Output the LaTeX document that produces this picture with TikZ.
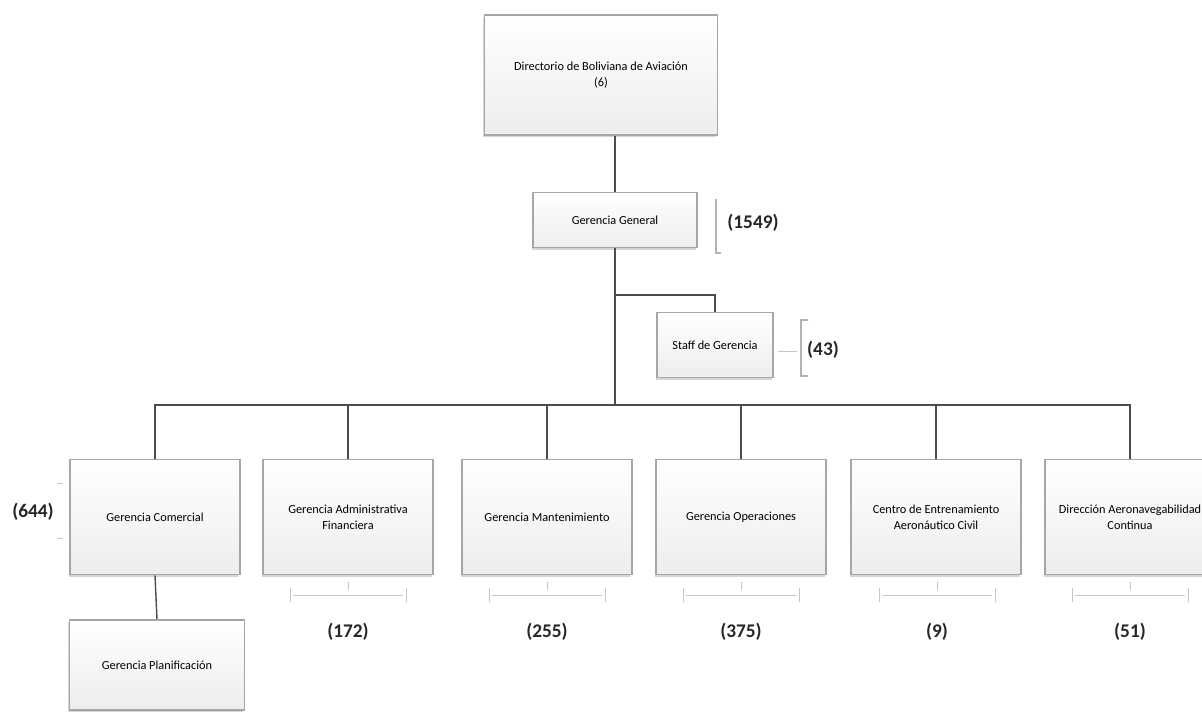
\documentclass[tikz,border=0pt]{standalone}
\usepackage{fontspec}
\setmainfont{Carlito}
\usetikzlibrary{shadows}
\tikzset{>=stealth,
  unitbox/.style={draw=gray!70, line width=0.9pt, top color=white, bottom color=gray!14,
    drop shadow={shadow xshift=-0.8pt, shadow yshift=-1.4pt, fill=gray!65},
    align=center, font=\fontsize{7}{9}\selectfont},
  link/.style={draw=black!70, line width=0.8pt},
  brk/.style={draw=gray!60, line width=0.6pt},
  tick/.style={draw=gray!45, line width=0.5pt},
  tally/.style={font=\fontsize{11}{13}\selectfont\bfseries, text=black!85}
}
\begin{document}
\begin{tikzpicture}[x=0.02cm, y=-0.02cm]
    \useasboundingbox (0,0) rectangle (1202,718);
    \node[unitbox, minimum width=4.66cm, minimum height=2.4cm] (dir) at (601,75) {Directorio de Boliviana de Aviación\\(6)};
    \node[unitbox, minimum width=3.28cm, minimum height=1.1cm] (gg) at (615,220) {Gerencia General};
    \node[unitbox, minimum width=2.32cm, minimum height=1.3cm] (staff) at (715,345) {Staff de Gerencia};
    \foreach \n/\x/\t in {com/155/{Gerencia Comercial}, adm/348/{Gerencia Administrativa\\Financiera},
        man/547/{Gerencia Mantenimiento}, ope/741/{Gerencia Operaciones},
        cea/936/{Centro de Entrenamiento\\Aeronáutico Civil}, dac/1130/{Dirección Aeronavegabilidad\\Continua}}
      \node[unitbox, minimum width=3.4cm, minimum height=2.3cm] (\n) at (\x,517) {\t};
    \node[unitbox, minimum width=3.5cm, minimum height=1.8cm] (plan) at (157,665) {Gerencia Planificación};
    \coordinate (sb) at (615,295);
    \coordinate (bus) at (615,405);
    \draw[link] (dir.south -| gg.north) -- (gg.north);
    \draw[link] (gg.south) -- (bus);
    \draw[link] (sb) -| (staff.north);
    \foreach \n in {com,adm,man,ope,cea,dac}
      \draw[link] (\n.north) |- (bus);
    \draw[link] (com.south) -- (plan.north);
    \node[tally] (t1549) at (753,223) {(1549)};
    \draw[brk] (716,199) -- (716,253) -- (721,253);
    \node[tally] (t43) at (823,350) {(43)};
    \draw[tick] (staff.east) ++(4,6) -- (797,351);
    \draw[brk] (808,320) -- (801,320) -- (801,376) -- (808,376);
    \node[tally] (t644) at (33,512) {(644)};
    \draw[tick] (57,483) -- (63,483) (57,538) -- (63,538);
    \foreach \n/\c/\v in {adm/348/172, man/547/255, ope/741/375, cea/937/9, dac/1130/51} {
      \draw[tick] (\c,582) -- (\c,590) (\c-55,595) -- (\c+55,595)
        (\c-58,588) -- (\c-58,602) (\c+58,588) -- (\c+58,602);
      \node[tally] (t\n) at (\c,632) {(\v)};
    }
\end{tikzpicture}
\end{document}
